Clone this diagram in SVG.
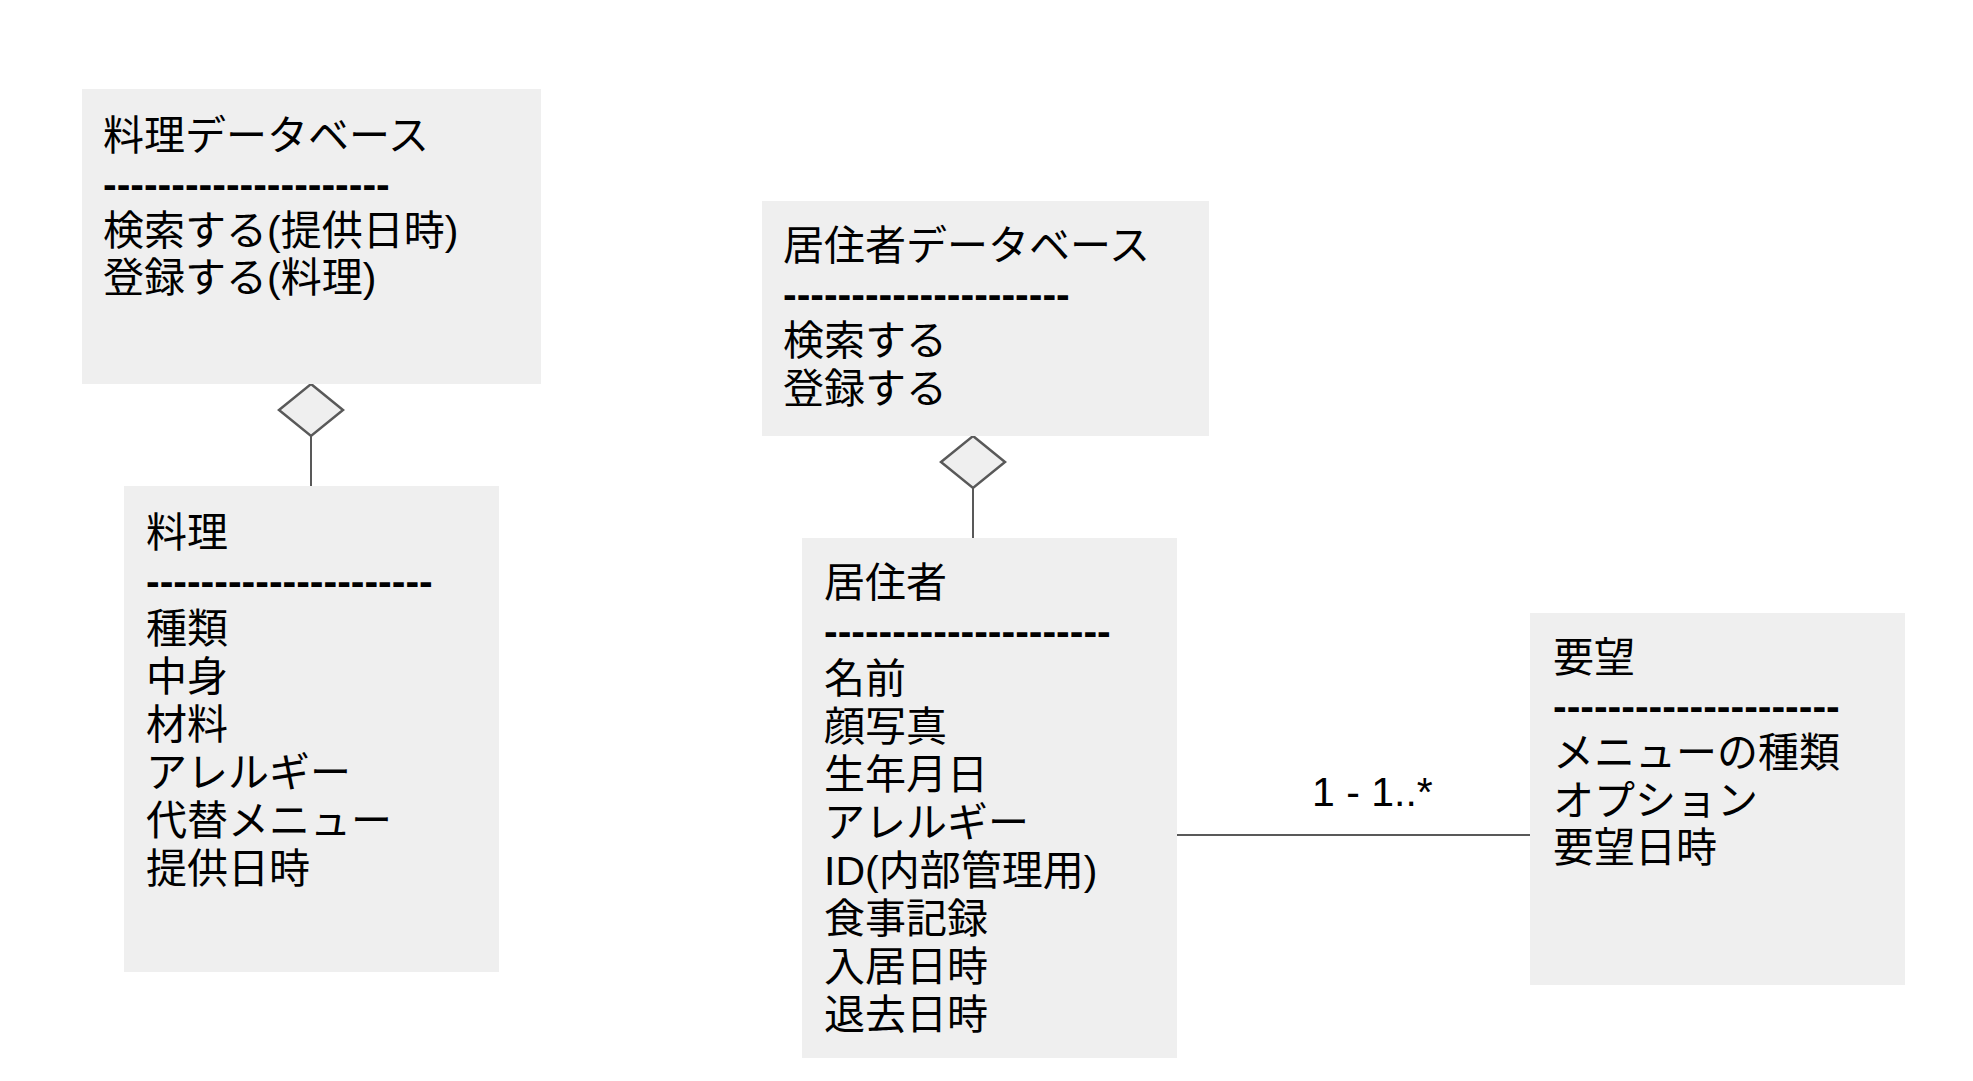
<svg xmlns="http://www.w3.org/2000/svg" width="1973" height="1081" viewBox="0 0 1973 1081">
<style>
.box{fill:#efefef;stroke:none}
.t{font-family:"Liberation Sans","Noto Sans CJK JP",sans-serif;font-size:41px;fill:#000}
.d{font-weight:bold}
.ln{stroke:#595959;stroke-width:2;fill:none}
.dia{fill:#efefef;stroke:#595959;stroke-width:2.5}
</style>
<rect x="0" y="0" width="1973" height="1081" fill="#ffffff"/>
<g id="connectors">
<line class="ln" x1="311" y1="436" x2="311" y2="486"/>
<polygon class="dia" points="311,384 343,410 311,436 279,410"/>
<line class="ln" x1="973" y1="488" x2="973" y2="538"/>
<polygon class="dia" points="973,436 1005,462 973,488 941,462"/>
<line class="ln" x1="1177" y1="835" x2="1530" y2="835"/>
<text class="t" x="1312" y="806" font-size="40">1 - 1..*</text>
</g>
<g id="ryori-db">
<rect class="box" x="82" y="89" width="459" height="295"/>
<text class="t" x="103" y="150">料理データベース</text>
<text class="t d" x="103" y="198">---------------------</text>
<text class="t" x="103" y="245">検索する(提供日時)</text>
<text class="t" x="103" y="292">登録する(料理)</text>
</g>
<g id="ryori">
<rect class="box" x="124" y="486" width="375" height="486"/>
<text class="t" x="146" y="547">料理</text>
<text class="t d" x="146" y="595">---------------------</text>
<text class="t" x="146" y="643">種類</text>
<text class="t" x="146" y="691">中身</text>
<text class="t" x="146" y="739">材料</text>
<text class="t" x="146" y="787">アレルギー</text>
<text class="t" x="146" y="835">代替メニュー</text>
<text class="t" x="146" y="883">提供日時</text>
</g>
<g id="kyojusha-db">
<rect class="box" x="762" y="201" width="447" height="235"/>
<text class="t" x="783" y="260">居住者データベース</text>
<text class="t d" x="783" y="308">---------------------</text>
<text class="t" x="783" y="355">検索する</text>
<text class="t" x="783" y="403">登録する</text>
</g>
<g id="kyojusha">
<rect class="box" x="802" y="538" width="375" height="520"/>
<text class="t" x="824" y="597">居住者</text>
<text class="t d" x="824" y="645">---------------------</text>
<text class="t" x="824" y="693">名前</text>
<text class="t" x="824" y="741">顔写真</text>
<text class="t" x="824" y="789">生年月日</text>
<text class="t" x="824" y="837">アレルギー</text>
<text class="t" x="824" y="885">ID(内部管理用)</text>
<text class="t" x="824" y="933">食事記録</text>
<text class="t" x="824" y="981">入居日時</text>
<text class="t" x="824" y="1029">退去日時</text>
</g>
<g id="yobo">
<rect class="box" x="1530" y="613" width="375" height="372"/>
<text class="t" x="1553" y="672">要望</text>
<text class="t d" x="1553" y="720">---------------------</text>
<text class="t" x="1553" y="767">メニューの種類</text>
<text class="t" x="1553" y="815">オプション</text>
<text class="t" x="1553" y="862">要望日時</text>
</g>
</svg>
